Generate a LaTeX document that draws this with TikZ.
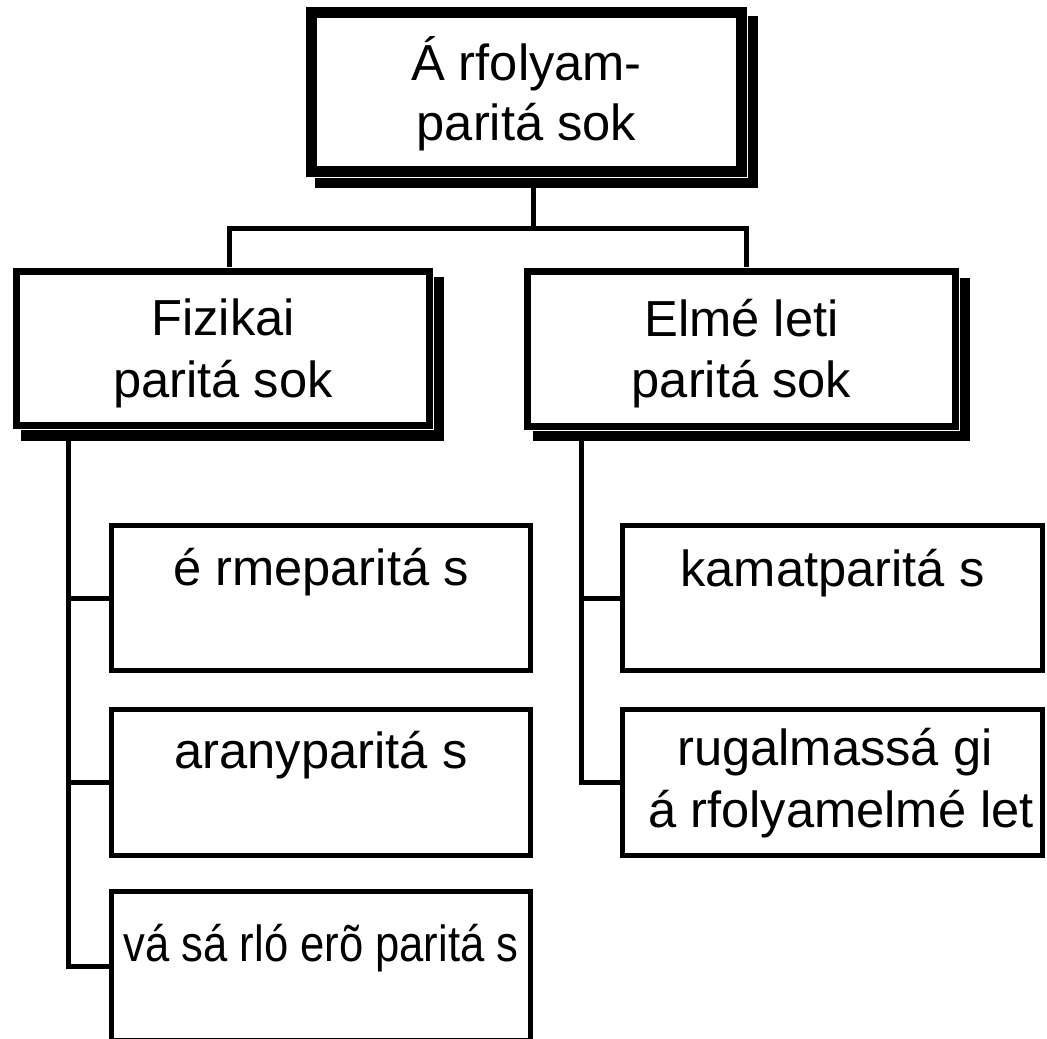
\documentclass[tikz,border=0pt]{standalone}
\usepackage{fontspec}
\setmainfont{Liberation Sans}
\begin{document}
\begin{tikzpicture}[x=0.75pt,y=-0.75pt,
  conn/.style={line width=3.75pt},
  bigbox/.style={draw=black,fill=white,line width=8.25pt,inner sep=0pt,outer sep=0pt},
  midbox/.style={draw=black,fill=white,line width=5.25pt,inner sep=0pt,outer sep=0pt},
  smallbox/.style={draw=black,fill=white,line width=3.75pt,inner sep=0pt,outer sep=0pt},
  shadow/.style={fill=black},
  halo/.style={fill=white},
  txt/.style={font=\fontsize{38}{46}\selectfont,inner sep=0pt,anchor=base}]
\clip (0,0) rectangle (1047,1039);
\fill[white] (0,0) rectangle (1047,1039);
% coordinates of junctions
\coordinate (bar) at (533,228);
\coordinate (bl) at (229,228);
\coordinate (br) at (746,228);
\coordinate (ls) at (68,441);
\coordinate (rs) at (581,441);
% boxes (placed first as invisible for connector references)
\path node[minimum width=322.5pt,minimum height=119.25pt,inner sep=0pt,outer sep=0pt] (top) at (526.5,92) {};
\path node[minimum width=309.75pt,minimum height=115.5pt,inner sep=0pt,outer sep=0pt] (fiz) at (223,348.5) {};
\path node[minimum width=321pt,minimum height=116.25pt,inner sep=0pt,outer sep=0pt] (elm) at (741.5,349) {};
\path node[minimum width=314.25pt,minimum height=108.75pt,inner sep=0pt,outer sep=0pt] (erme) at (321,598) {};
\path node[minimum width=314.25pt,minimum height=109.5pt,inner sep=0pt,outer sep=0pt] (arany) at (321,782.5) {};
\path node[minimum width=314.25pt,minimum height=111.75pt,inner sep=0pt,outer sep=0pt] (vas) at (321,966) {};
\path node[minimum width=315pt,minimum height=108.75pt,inner sep=0pt,outer sep=0pt] (kamat) at (832.5,598) {};
\path node[minimum width=315pt,minimum height=109.5pt,inner sep=0pt,outer sep=0pt] (rug) at (832.5,782.5) {};
% connectors
\draw[conn] (top.south -| bar) -- (bar);
\draw[conn] (fiz.north -| bl) -- (bl) -- (br) -- (elm.north -| br);
\draw[conn] (fiz.south -| ls) |- (vas.west);
\draw[conn] (ls |- erme.west) -- (erme.west);
\draw[conn] (ls |- arany.west) -- (arany.west);
\draw[conn] (elm.south -| rs) |- (rug.west);
\draw[conn] (rs |- kamat.west) -- (kamat.west);
% shadows
\fill[shadow] (315,16) rectangle (758,188);
\fill[halo] (305,6) rectangle (748,178);
\fill[shadow] (21,277) rectangle (444,441);
\fill[halo] (12,267) rectangle (434,430);
\fill[shadow] (533,278) rectangle (970,441);
\fill[halo] (523,267) rectangle (960,431);
% visible boxes
\node[bigbox,minimum width=322.5pt,minimum height=119.25pt] at (top) {};
\node[midbox,minimum width=309.75pt,minimum height=115.5pt] at (fiz) {};
\node[midbox,minimum width=321pt,minimum height=116.25pt] at (elm) {};
\node[smallbox,minimum width=314.25pt,minimum height=108.75pt] at (erme) {};
\node[smallbox,minimum width=314.25pt,minimum height=109.5pt] at (arany) {};
\node[smallbox,minimum width=314.25pt,minimum height=111.75pt] at (vas) {};
\node[smallbox,minimum width=315pt,minimum height=108.75pt] at (kamat) {};
\node[smallbox,minimum width=315pt,minimum height=109.5pt] at (rug) {};
% texts
\node[txt] (t1) at (526.5,80) {Á rfolyam-};
\node[txt] (t2) at (526.5,140) {paritá sok};
\node[txt] (f1) at (223,335) {Fizikai};
\node[txt] (f2) at (223,397) {paritá sok};
\node[txt] (e1) at (741.5,336) {Elmé leti};
\node[txt] (e2) at (741.5,397) {paritá sok};
\node[txt] (s1) at (321,585) {é rmeparitá s};
\node[txt] (s2) at (321,768) {aranyparitá s};
\node[txt] (s3) at (321,961) {\scalebox{0.86}[1]{vá sá rló erõ paritá s}};
\node[txt] (k1) at (832.5,586) {kamatparitá s};
\node[txt] (r1) at (835,765) {rugalmassá gi};
\node[txt] (r2) at (841,827) {á rfolyamelmé let};
\end{tikzpicture}
\end{document}
